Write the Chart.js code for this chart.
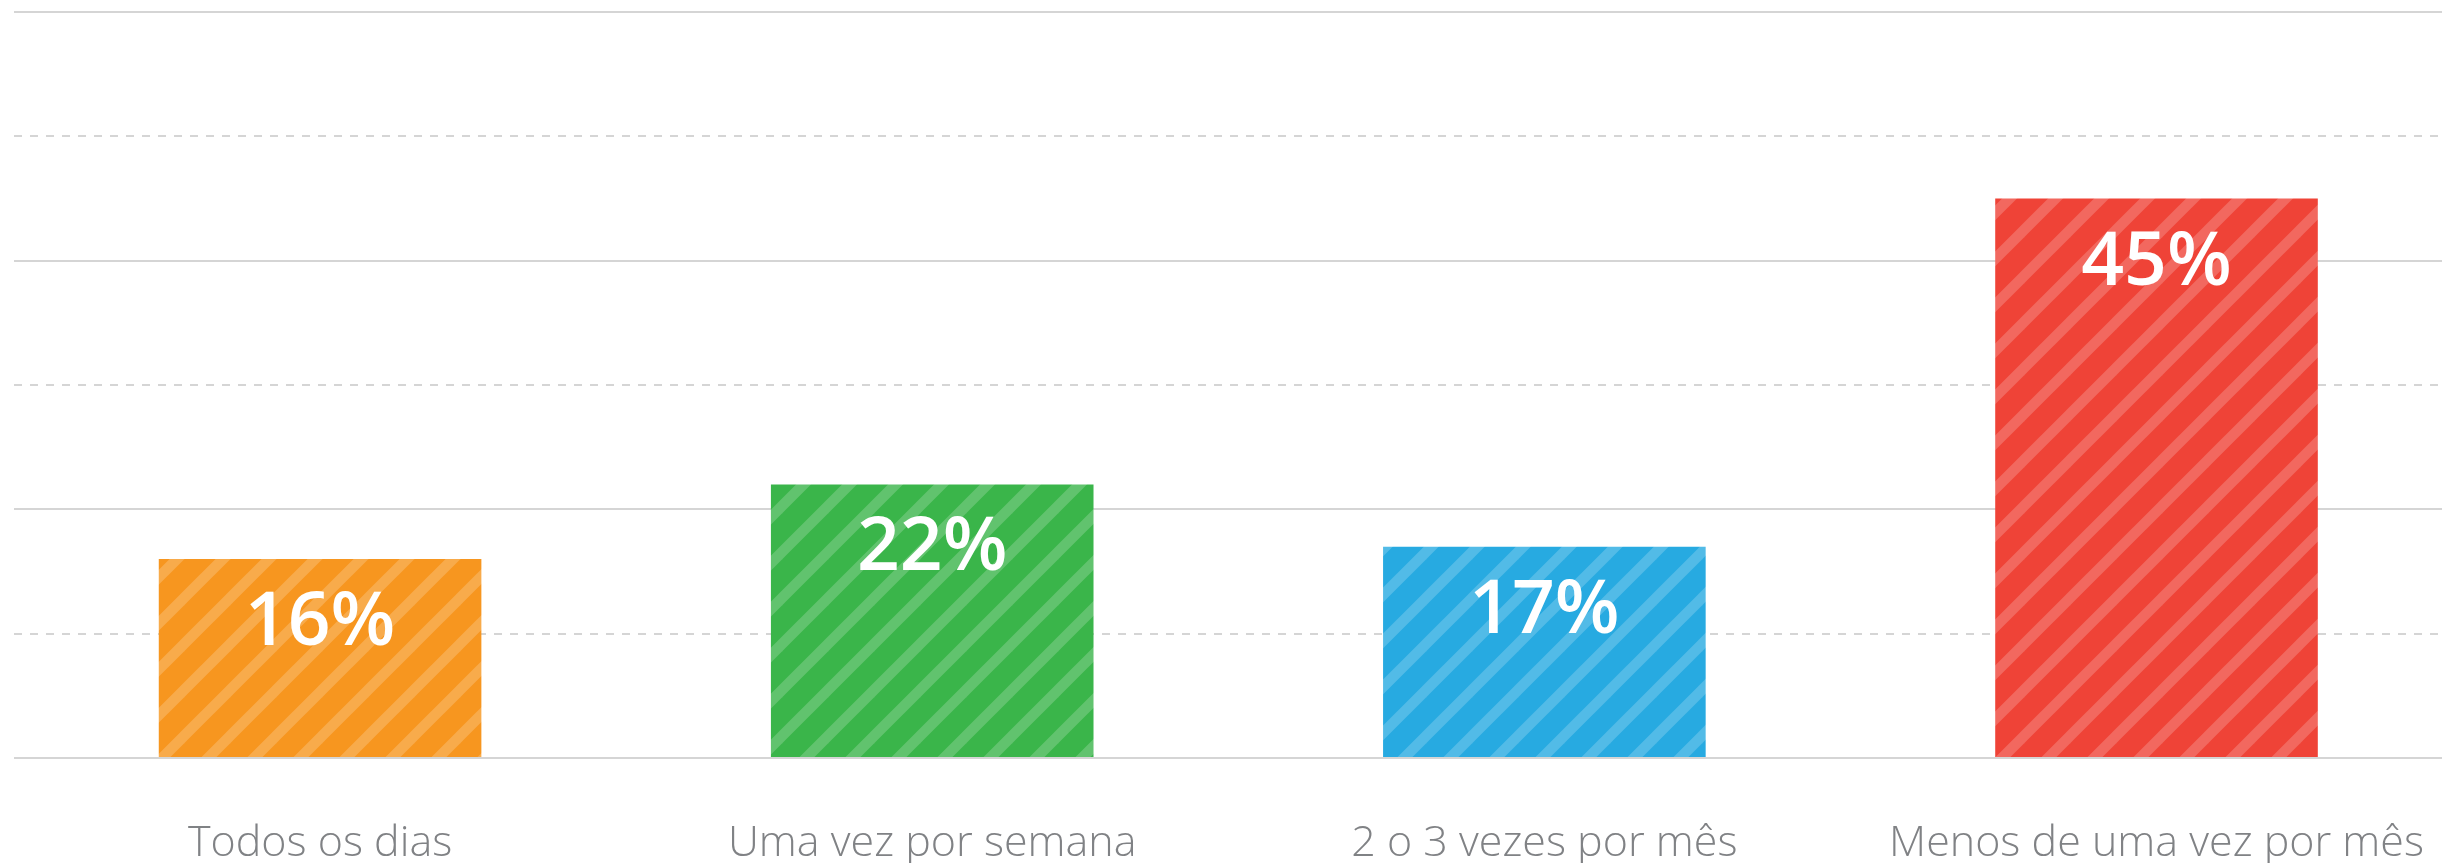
<!DOCTYPE html>
<html>
<head>
<meta charset="utf-8">
<script src="https://cdn.jsdelivr.net/npm/chart.js@4/dist/chart.umd.min.js"></script>
<style>
  html, body { margin: 0; padding: 0; background: #fff; overflow: hidden; }
  #wrap { width: 2442px; height: 863px; overflow: hidden; }
</style>
</head>
<body>
<div id="wrap"><canvas id="freq"></canvas></div>
<script>
const categories = ["Todos os dias", "Uma vez por semana", "2 o 3 vezes por mês", "Menos de uma vez por mês"];
const values = [16, 22, 17, 45];
const barColors = ["#f7961f", "#3ab54a", "#27aae1", "#ef4337"];
const yTicks = [0, 10, 20, 30, 40, 50, 60];

const gridGray = "#d5d5d5";
const textGray = "#808285";
const fontFam = "'Open Sans', 'Noto Sans', sans-serif";

// diagonal stripes on top of a flat colour
const hatch = (color) => {
  const s = 46;
  const c = document.createElement("canvas");
  c.width = s; c.height = s;
  const g = c.getContext("2d");
  g.fillStyle = color;
  g.fillRect(0, 0, s, s);
  g.strokeStyle = "rgba(255,255,255,0.2)";
  g.lineWidth = 10.5;
  [-s, 0, s].forEach(o => {
    g.beginPath();
    g.moveTo(o - s, 2 * s);
    g.lineTo(o + 2 * s, -s);
    g.stroke();
  });
  return g.createPattern(c, "repeat");
};

const valueLabels = {
  id: "valueLabels",
  afterDatasetsDraw(chart) {
    const ctx = chart.ctx;
    const meta = chart.getDatasetMeta(0);
    ctx.save();
    ctx.fillStyle = "#fff";
    ctx.font = "600 75px " + fontFam;
    ctx.textAlign = "center";
    ctx.textBaseline = "alphabetic";
    meta.data.forEach((bar, i) => {
      ctx.fillText(values[i] + "%", bar.x, bar.y + 86);
    });
    ctx.restore();
  }
};

const charts = () => {
  const el = document.getElementById("freq");
  el.width = 2476;
  el.height = 863;
  el.style.width = "2476px";
  el.style.height = "863px";

  new Chart(el, {
    type: "bar",
    data: {
      labels: categories,
      datasets: [{
        data: values,
        backgroundColor: barColors.map(hatch),
        borderWidth: 0,
        barPercentage: 1,
        categoryPercentage: 0.527
      }]
    },
    options: {
      responsive: false,
      animation: false,
      layout: { padding: { left: 14, right: 0, top: 12, bottom: 0 } },
      plugins: { legend: { display: false }, tooltip: { enabled: false } },
      scales: {
        x: {
          grid: { display: false },
          border: { display: false },
          afterFit: (s) => { s.height = 105; },
          ticks: {
            color: textGray,
            padding: 52,
            maxRotation: 0,
            autoSkip: false,
            font: { family: fontFam, size: 43, weight: 300 }
          }
        },
        y: {
          min: 0,
          max: 60,
          afterBuildTicks: (s) => { s.ticks = yTicks.filter(v => v % 20 === 0).map(v => ({ value: v })); },
          afterFit: (s) => { s.width = 0; },
          grid: { color: gridGray, lineWidth: 2, drawTicks: false },
          border: { display: false },
          ticks: { display: false }
        },
        y2: {
          position: "left",
          min: 0,
          max: 60,
          afterBuildTicks: (s) => { s.ticks = yTicks.filter(v => v % 20 !== 0).map(v => ({ value: v })); },
          afterFit: (s) => { s.width = 0; },
          grid: { color: gridGray, lineWidth: 2, drawTicks: false },
          border: { display: false, dash: [8, 8] },
          ticks: { display: false }
        }
      }
    },
    plugins: [valueLabels]
  });
};

(() => {
  charts();
})();
</script>
</body>
</html>
